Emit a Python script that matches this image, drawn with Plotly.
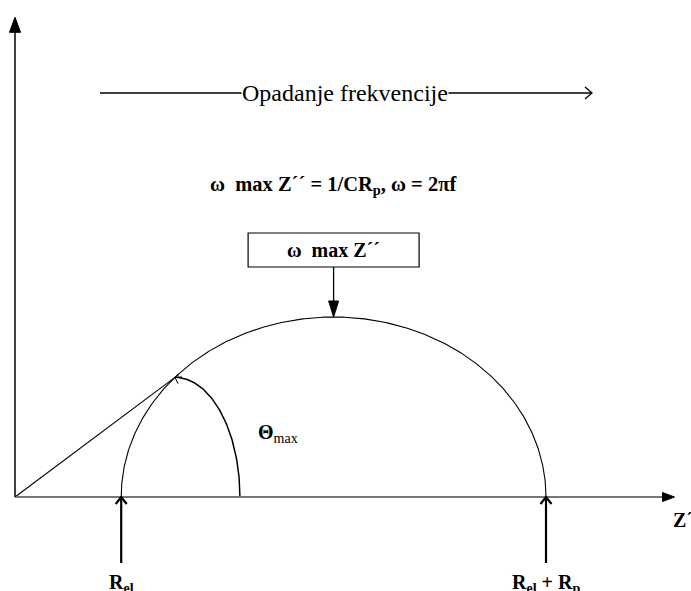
import numpy as np
import plotly.graph_objects as go

# ---------------- data (impedance units) ----------------
R_EL = 1.0          # electrolyte resistance  (left end of the semicircle)
R_P = 4.0           # polarisation resistance (diameter of the semicircle)
THETA_PT_ZRE = 1.506  # Z' of the point where the phase-angle line meets the arc
X_AXIS_END = 6.21
Y_AXIS_END = 5.33

# labels
TXT_FREQ = "Opadanje frekvencije"
TXT_FORMULA = "<b>ω\u00a0\u00a0max Z´´ = 1/CR<sub>p</sub>, ω = 2πf</b>"
TXT_BOX = "<b>ω\u00a0\u00a0max Z´´</b>"
TXT_THETA = "<b>Θ</b><sub>max</sub>"
TXT_REL = "<b>R<sub>el</sub></b>"
TXT_RELRP = "<b>R<sub>el</sub> + R<sub>p</sub></b>"
TXT_ZRE = "<b>Z´</b>"

# ---------------- geometry / scales ----------------
W, H = 691, 591
SX, SY = 106.2, 90.0          # pixels per unit on x and y
OX, OY = 15, 497              # origin in pixels
xr = [-OX / SX, (W - OX) / SX]
yr = [-(H - OY) / SY, OY / SY]

def dx(px):
    return px / SX

def dy(px):
    return px / SY

FONT = "Liberation Serif"
shapes = []
annotations = []

def line_shape(x0, y0, x1, y1, color="black", width=1.2):
    shapes.append(dict(type="line", xref="x", yref="y", x0=x0, y0=y0, x1=x1, y1=y1,
                       line=dict(color=color, width=width)))

def filled_head(tx, ty, ux, uy, length, half):
    bx, by = -ux * length, -uy * length
    px_, py_ = -uy * half, ux * half
    pts = [(tx, ty),
           (tx + dx(bx + px_), ty + dy(by + py_)),
           (tx + dx(bx - px_), ty + dy(by - py_))]
    path = "M{},{} L{},{} L{},{} Z".format(*[v for p in pts for v in p])
    shapes.append(dict(type="path", xref="x", yref="y", path=path,
                       fillcolor="black", line=dict(color="black", width=1)))

def open_head(tx, ty, ux, uy, length, half, width=1.2):
    bx, by = -ux * length, -uy * length
    px_, py_ = -uy * half, ux * half
    a = (tx + dx(bx + px_), ty + dy(by + py_))
    b = (tx + dx(bx - px_), ty + dy(by - py_))
    path = "M{},{} L{},{} L{},{}".format(a[0], a[1], tx, ty, b[0], b[1])
    shapes.append(dict(type="path", xref="x", yref="y", path=path,
                       line=dict(color="black", width=width)))

# axes
line_shape(0, 0, X_AXIS_END - dx(10), 0, color="#777777", width=2.2)
filled_head(X_AXIS_END, 0, 1, 0, 12, 4.5)
line_shape(0, 0, 0, Y_AXIS_END - dy(12), color="black", width=1.5)
filled_head(0, Y_AXIS_END, 0, 1, 15, 5.5)

# semicircle
center = R_EL + R_P / 2
rad = R_P / 2
t = np.linspace(0, np.pi, 400)
arc_x = center + rad * np.cos(t)
arc_y = rad * np.sin(t)

# phase-angle point on the arc
theta_y = np.sqrt(rad ** 2 - (THETA_PT_ZRE - center) ** 2)

# theta arc (quarter ellipse from the x-axis up to the phase point)
ell_rx = 0.612
s = np.linspace(0, np.pi / 2, 100)
th_x = THETA_PT_ZRE + ell_rx * np.cos(s)
th_y = theta_y * np.sin(s)

fig = go.Figure()
fig.add_trace(go.Scatter(x=arc_x, y=arc_y, mode="lines",
                         line=dict(color="black", width=1.1), hoverinfo="skip"))
fig.add_trace(go.Scatter(x=[0, THETA_PT_ZRE + dx(4)], y=[0, theta_y + dy(3)], mode="lines",
                         line=dict(color="black", width=1.1), hoverinfo="skip"))
fig.add_trace(go.Scatter(x=th_x, y=th_y, mode="lines",
                         line=dict(color="black", width=1.5), hoverinfo="skip"))
open_head(THETA_PT_ZRE, theta_y, -0.85, 0.5, 6, 4, width=1)

# frequency arrow
FREQ_Y = dy(OY - 93)
line_shape(dx(100 - OX), FREQ_Y, dx(592 - OX), FREQ_Y, width=1.3)
open_head(dx(592 - OX), FREQ_Y, 1, 0, 7, 6, width=1.3)
annotations.append(dict(x=dx(345 - OX), y=FREQ_Y, xref="x", yref="y", text=TXT_FREQ,
                        showarrow=False, bgcolor="white", borderpad=0,
                        font=dict(family=FONT, size=24, color="black")))

# formula
annotations.append(dict(x=center, y=dy(OY - 185), xref="x", yref="y", text=TXT_FORMULA,
                        showarrow=False, font=dict(family=FONT, size=20.5, color="black")))

# box with arrow to the top of the semicircle
BOX_W = dx(171)
box_y0, box_y1 = rad + dy(50), rad + dy(84)
shapes.append(dict(type="rect", xref="x", yref="y", x0=center - BOX_W / 2, x1=center + BOX_W / 2,
                   y0=box_y0, y1=box_y1, line=dict(color="black", width=1.2), fillcolor="white"))
annotations.append(dict(x=center, y=(box_y0 + box_y1) / 2, xref="x", yref="y", text=TXT_BOX,
                        showarrow=False, font=dict(family=FONT, size=20, color="black")))
line_shape(center, box_y0, center, rad + dy(14), width=1.3)
filled_head(center, rad, 0, -1, 16, 5)

# theta label
annotations.append(dict(x=dx(256 - OX), y=dy(OY - 433), xref="x", yref="y", text=TXT_THETA,
                        xanchor="left", showarrow=False,
                        font=dict(family=FONT, size=20, color="black")))

# R_el and R_el+R_p arrows
for xv in (R_EL, R_EL + R_P):
    line_shape(xv, -dy(66), xv, 0, width=2.2)
    open_head(xv, 0, 0, 1, 7, 5.5, width=2.2)
annotations.append(dict(x=R_EL, y=-dy(72), xref="x", yref="y", text=TXT_REL,
                        yanchor="top", showarrow=False,
                        font=dict(family=FONT, size=20, color="black")))
annotations.append(dict(x=R_EL + R_P, y=-dy(72), xref="x", yref="y", text=TXT_RELRP,
                        yanchor="top", showarrow=False,
                        font=dict(family=FONT, size=20, color="black")))
annotations.append(dict(x=dx(671 - OX), y=-dy(23), xref="x", yref="y", text=TXT_ZRE,
                        xanchor="left", showarrow=False,
                        font=dict(family=FONT, size=20, color="black")))

fig.update_layout(
    width=W, height=H, margin=dict(l=0, r=0, t=0, b=0),
    paper_bgcolor="white", plot_bgcolor="white", showlegend=False,
    font=dict(family=FONT),
    xaxis=dict(visible=False, range=xr, fixedrange=True),
    yaxis=dict(visible=False, range=yr, fixedrange=True),
    shapes=shapes, annotations=annotations,
)

fig.write_html("out.html", config={"displayModeBar": False},
               post_script="document.body.style.margin='0px';document.body.style.overflow='hidden';")
